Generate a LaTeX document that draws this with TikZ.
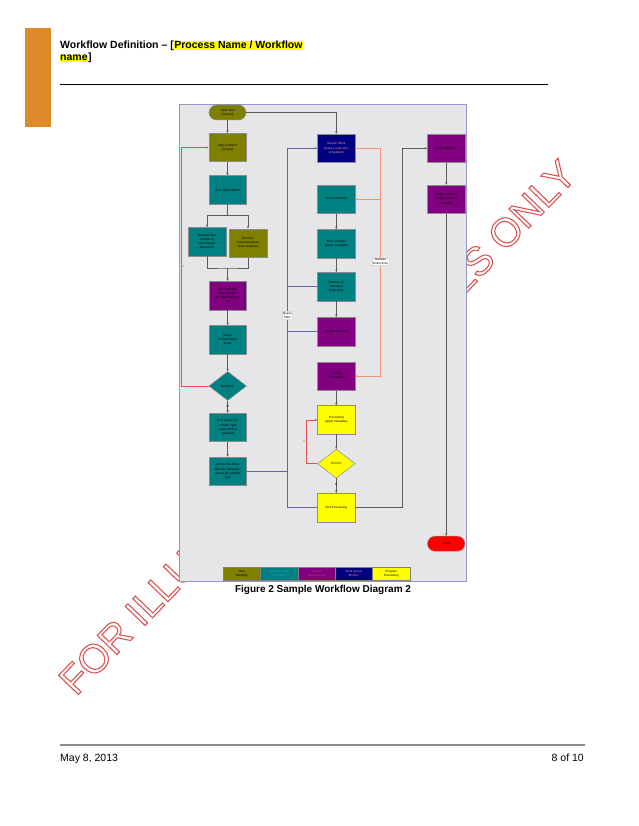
\documentclass[tikz,border=0pt]{standalone}
\usepackage{fontspec}
\setmainfont{Liberation Sans}
\usetikzlibrary{arrows.meta,shapes.geometric}
\definecolor{olv}{RGB}{128,128,0}
\definecolor{tea}{RGB}{0,128,128}
\definecolor{pur}{RGB}{128,0,128}
\definecolor{nav}{RGB}{0,0,128}
\definecolor{yel}{RGB}{255,255,0}
\definecolor{rd}{RGB}{255,0,0}
\definecolor{bg}{RGB}{230,230,232}
\definecolor{frm}{RGB}{150,150,200}
\definecolor{orng}{RGB}{222,138,40}
\definecolor{wm}{RGB}{220,85,85}
\definecolor{loopred}{RGB}{225,80,80}
\definecolor{relc}{RGB}{240,150,110}
\definecolor{qc}{RGB}{100,100,170}
\definecolor{flc}{RGB}{90,90,90}
\newcommand\hlt[1]{{\fboxsep=0.6pt\colorbox{yel}{#1}}}
\tikzset{
  box/.style={draw=black!45, line width=0.5pt, minimum width=37.5pt, minimum height=28.5pt,
    inner sep=0.5pt, align=center, text width=35pt, font=\fontsize{3}{4.1}\selectfont},
  pill/.style={box, rounded corners=7.5pt, minimum height=15pt},
  dia/.style={diamond, draw=black!45, line width=0.5pt, minimum width=37.5pt, minimum height=29pt,
    inner sep=0pt, aspect=1.3, align=center, font=\fontsize{3}{4.1}\selectfont},
  flow/.style={draw=flc, line width=0.5pt, -{Stealth[length=2.6pt,width=2.2pt]}},
  fline/.style={draw=flc, line width=0.5pt},
  rloop/.style={draw=loopred, line width=0.6pt},
  rel/.style={draw=relc, line width=0.6pt},
  qs/.style={draw=qc, line width=0.6pt},
  tiny/.style={font=\fontsize{3}{4}\selectfont, inner sep=0.6pt, align=center},
  lbl/.style={tiny, fill=white, draw=black!15, line width=0.2pt},
  leg/.style={draw=black!50, line width=0.4pt, minimum width=37.4pt, minimum height=13.5pt,
    inner sep=0.3pt, align=center, font=\fontsize{3}{4}\selectfont}
}
\begin{document}
\begin{tikzpicture}[x=1pt,y=-1pt]
\useasboundingbox (0,0) rectangle (638,826);
\fill[white] (0,0) rectangle (638,826);
% watermark
\node[rotate=46, anchor=base west, inner sep=0pt, text=wm, font=\fontsize{40}{40}\selectfont] (wmark) at (76,697)
  {\special{pdf:literal 1 Tr 1.1 w}FOR ILLUSTRATIVE PURPOSES ONLY\special{pdf:literal 0 Tr}};
% header
\fill[orng] (25,28) rectangle (50.5,127);
\node[anchor=base west, inner sep=0pt, font=\fontsize{10.5}{12}\selectfont\bfseries] (h1) at (60,49)
  {Workflow Definition -- [\hlt{Process Name / Workflow}};
\node[anchor=base west, inner sep=0pt, font=\fontsize{10.5}{12}\selectfont\bfseries] (h2) at (59.4,61)
  {\hlt{name}]};
\draw[black, line width=0.8pt] (60,84.3) -- (548,84.3);
% footer
\draw[black!45, line width=1.4pt] (60,745) -- (585,745);
\node[anchor=base west, inner sep=0pt, font=\fontsize{10.5}{12}\selectfont] (f1) at (60,761) {May 8, 2013};
\node[anchor=base east, inner sep=0pt, font=\fontsize{10.5}{12}\selectfont] (f2) at (584,761) {8 of 10};
% diagram frame
\draw[fill=bg, draw=frm, line width=0.7pt] (179,104) rectangle (466,581.7);
\node[anchor=base, inner sep=0pt, font=\fontsize{10}{12}\selectfont\bfseries] (cap) at (323,592.5)
  {Figure 2 Sample Workflow Diagram 2};
% left column
\node[pill, fill=olv, minimum width=37pt] (open) at (227.5,112.5) {Open Mail\\(manual)};
\node[box, fill=olv] (align) at (227.5,147.5) {Align \& Orient\\(manual)};
\node[box, fill=tea] (scan) at (227.5,190) {Scan Mixed Batch};
\node[box, fill=tea] (fwd) at (207,241.7) {Forward Data\\Images to\\Unmanaged\\Repository};
\node[box, fill=olv] (remove) at (248,243) {Remove\\Correspondence\\(from originals)};
\node[box, fill=pur] (queue) at (227.7,295.5) {Queue Image\\Batches for\\QC Processing \&\\QA};
\node[box, fill=tea] (enh) at (227.7,339.7) {Image\\Enhancement\\\& QA};
\node[dia, fill=tea] (rescan) at (227.7,386) {Re-Scan?};
\node[box, fill=tea] (sort) at (227.7,427.3) {Sort Images by\\Content Type\\(apply OCR \&\\metadata)};
\node[box, fill=tea] (create) at (227.7,471.3) {Create Pre-Index\\Batches (staging) /\\queue per content\\type};
% middle column
\node[box, fill=nav, text=pink!80!purple] (monitor) at (336.3,148.3) {Monitor Work\\Queues (real time,\\scheduled)};
\node[box, fill=tea] (pullidx) at (336.3,199.2) {Pull To Indexing};
\node[box, fill=tea] (index) at (336.3,243.8) {Index Content\\(apply metadata)};
\node[box, fill=tea] (release) at (336.3,286.7) {Release To\\Managed\\Repository};
\node[box, fill=pur] (update) at (336.3,331.5) {Update Records};
\node[box, fill=pur] (pullproc) at (336.3,376) {Pull To\\Processing};
\node[box, fill=yel] (proc) at (336.3,419.8) {Processing\\(apply metadata)};
\node[dia, fill=yel] (errors) at (336.3,463.7) {Errors?};
\node[box, fill=yel] (endp) at (336.3,507.5) {End Processing};
% right column
\node[box, fill=pur] (upd2) at (446.2,148.3) {Update Records};
\node[box, fill=pur] (notify) at (446.2,199.2) {Notify Customer\\(Staged Content\\Available)};
\node[pill, fill=rd] (end) at (446.2,543.7) {END};
% left connectors
\draw[flow] (open) -- (align);
\draw[flow] (open.east) -| (monitor.north);
\draw[flow] (align) -- (scan);
\coordinate (split) at (227.5,215.7);
\draw[fline] (scan.south) -- (split);
\draw[flow] (split) -| (fwd.north);
\draw[flow] (split) -| (remove.north);
\coordinate (merge) at (227.7,268);
\draw[fline] (fwd.south) |- (merge) -| (remove.south);
\draw[flow] (merge) -- (queue.north);
\draw[flow] (queue) -- (enh);
\draw[flow] (enh) -- (rescan);
\draw[flow] (rescan) -- node[tiny, pos=0.45] (nlbl1) {N} (sort);
\draw[flow] (sort) -- (create);
\coordinate (rtop) at (181.3,147.5);
\coordinate (rbot) at (181.3,386);
\draw[rloop] (rescan.west) -- (rbot) -- (rtop);
\draw[rloop, -{Stealth[length=2.6pt,width=2.2pt]}] (rtop) -- (align.west);
\node[tiny, text=black!60, anchor=west, inner sep=0.3pt] (ylbl1) at (181.8,266) {Y};
% queue stats
\coordinate (qtop) at (287.3,148.3);
\coordinate (qbot) at (287.3,507.5);
\draw[qs] (create.east) -- (create.east -| qtop);
\draw[qs] (qbot) -- (qtop);
\draw[qs, -{Stealth[length=2.6pt,width=2.2pt]}] (qtop) -- (monitor.west);
\draw[qs] (release.west) -- (release.west -| qtop);
\draw[qs] (update.west) -- (update.west -| qtop);
\draw[qs] (qbot) -- (endp.west);
\node[lbl] (qlbl) at (287.3,315) {Queue\\Stats};
% release instructions
\coordinate (otop) at (380.5,148.3);
\coordinate (obot) at (380.5,376);
\draw[rel] (monitor.east) -- (otop) -- (obot);
\draw[rel, -{Stealth[length=2.6pt,width=2.2pt]}] (obot) -- (pullproc.east);
\draw[rel, -{Stealth[length=2.6pt,width=2.2pt]}] (otop |- pullidx.east) -- (pullidx.east);
\node[lbl] (rlbl) at (380.5,261.7) {Release\\Instructions};
% middle flow
\draw[flow] (pullidx) -- (index);
\draw[flow] (index) -- (release);
\draw[flow] (release) -- (update);
\draw[flow] (pullproc) -- (proc);
\draw[flow] (proc) -- (errors);
\draw[flow] (errors) -- node[tiny, pos=0.4] (nlbl2) {N} (endp);
\coordinate (etop) at (306,419.8);
\coordinate (ebot) at (306,463.7);
\draw[rloop] (errors.west) -- (ebot) -- (etop);
\draw[rloop, -{Stealth[length=2.6pt,width=2.2pt]}] (etop) -- (proc.west);
\node[tiny, text=black!60, anchor=east, inner sep=0.3pt] (ylbl2) at (305.5,441) {Y};
% right flow
\coordinate (rc) at (402.5,148.3);
\draw[fline] (endp.east) -| (rc);
\draw[flow] (rc) -- (upd2.west);
\draw[flow] (upd2) -- (notify);
\draw[flow] (notify) -- (end);
% legend
\node[leg, fill=olv] (l1) at (241.7,573.5) {Mail\\Handling};
\node[leg, fill=tea, text=cyan!70!teal] (l2) at (279.1,573.5) {Content Capture\\\& Routing};
\node[leg, fill=pur, text=magenta!70!black] (l3) at (316.5,573.5) {Content\\Management};
\node[leg, fill=nav, text=pink!70!purple] (l4) at (353.9,573.5) {Work Queue\\Monitor};
\node[leg, fill=yel] (l5) at (391.3,573.5) {Program\\Processing};
\end{tikzpicture}
\end{document}
